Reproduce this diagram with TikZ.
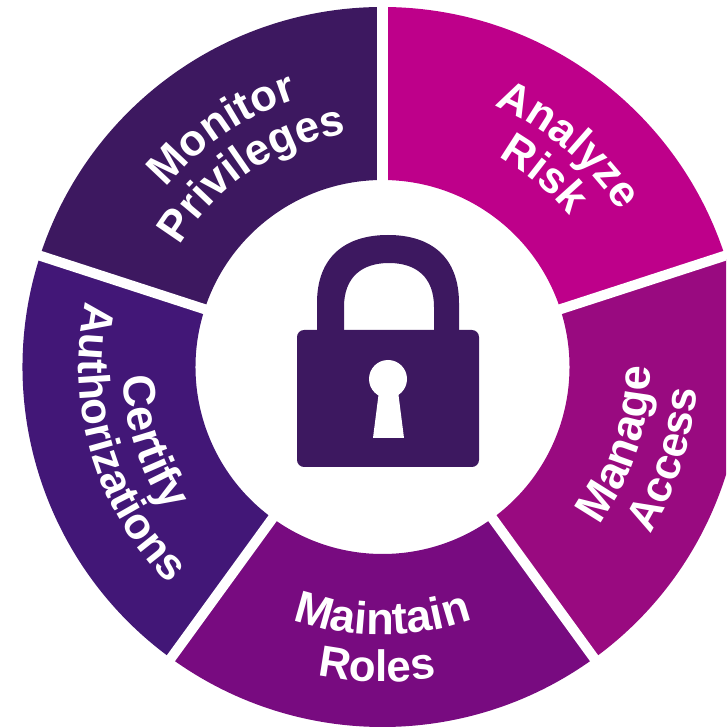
\documentclass[tikz,border=0pt]{standalone}
\usepackage{fontspec}
\setmainfont{Liberation Sans}
\usepackage{xcolor}
\usetikzlibrary{calc,decorations.text}
\definecolor{monitorc}{HTML}{3D1860}
\definecolor{analyzec}{HTML}{BE008A}
\definecolor{managec}{HTML}{990A80}
\definecolor{maintainc}{HTML}{780B80}
\definecolor{certifyc}{HTML}{421777}
\newcommand{\seglab}{\fontsize{12.5}{15}\selectfont\bfseries\color{white}}
\newcommand{\seglabin}{\fontsize{12.9}{15}\selectfont\bfseries\color{white}}
\tikzset{
  gapline/.style={draw=white, line width=2.85pt},
  lockbody/.style={fill=monitorc, draw=none},
  holepart/.style={fill=white, draw=none},
  outword/.style={decorate, decoration={text along path, text align=center, text={|\seglab|#1}}},
  inword/.style={decorate, decoration={text along path, text align=center, text={|\seglabin|#1}}}
}

\begin{document}
\begin{tikzpicture}
  \useasboundingbox (0,0) rectangle (7.26,7.27);
  \clip (0,0) rectangle (7.26,7.27);

  \def\ro{3.60}
  \def\ri{1.87}
  \coordinate (C) at (3.825,3.60);

  % ring segments
  \foreach \a/\b/\c in {90/162/monitorc,18/90/analyzec,-54/18/managec,-126/-54/maintainc,-198/-126/certifyc}{
    \fill[\c] ($(C)+(\a:\ro)$) arc (\a:\b:\ro) -- ($(C)+(\b:\ri)$) arc (\b:\a:\ri) -- cycle;
  }

  % white gaps
  \foreach \a in {90,18,-54,-126,162}{
    \draw[gapline] ($(C)+(\a:1.7)$) -- ($(C)+(\a:3.8)$);
  }

  % upper labels run clockwise
  \path[outword={Monitor}] ($(C)+(164:2.81)$) arc (164:84:2.81);
  \path[outword={Privileges}] ($(C)+(174:2.36)$) arc (174:74:2.36);
  \path[outword={Analyze}] ($(C)+(90:2.84)$) arc (90:10:2.84);
  \path[outword={Risk}] ($(C)+(90:2.40)$) arc (90:10:2.40);

  % lower labels run counterclockwise
  \path[inword={Manage}] ($(C)+(-60:2.68)$) arc (-60:24:2.68);
  \path[outword={Access}] ($(C)+(-60:3.15)$) arc (-60:24:3.15);
  \path[inword={Maintain}] ($(C)+(-132:2.68)$) arc (-132:-48:2.68);
  \path[outword={Roles}] ($(C)+(-133:3.15)$) arc (-133:-49:3.15);
  \path[inword={Certify}] ($(C)+(156:2.60)$) arc (156:240:2.60);
  \path[outword={Authorizations}] ($(C)+(138.5:3.04)$) arc (138.5:254.5:3.04);

  % lock
  \fill[lockbody] (3.17,3.90) -- (3.17,4.24) .. controls (3.17,4.70) and (3.45,4.92) .. (3.88,4.92)
    .. controls (4.31,4.92) and (4.59,4.70) .. (4.59,4.24) -- (4.59,3.90) -- (4.34,3.90) -- (4.34,4.20)
    .. controls (4.34,4.50) and (4.16,4.64) .. (3.89,4.64)
    .. controls (3.62,4.64) and (3.44,4.50) .. (3.44,4.20) -- (3.44,3.90) -- cycle;
  \fill[lockbody, rounded corners=2pt] (2.97,2.60) rectangle (4.79,3.97);
  \fill[holepart] (3.88,3.48) circle (0.19);
  \fill[holepart] (3.79,3.36) -- (3.98,3.36) -- (4.04,2.89) -- (3.73,2.89) -- cycle;
\end{tikzpicture}
\end{document}
